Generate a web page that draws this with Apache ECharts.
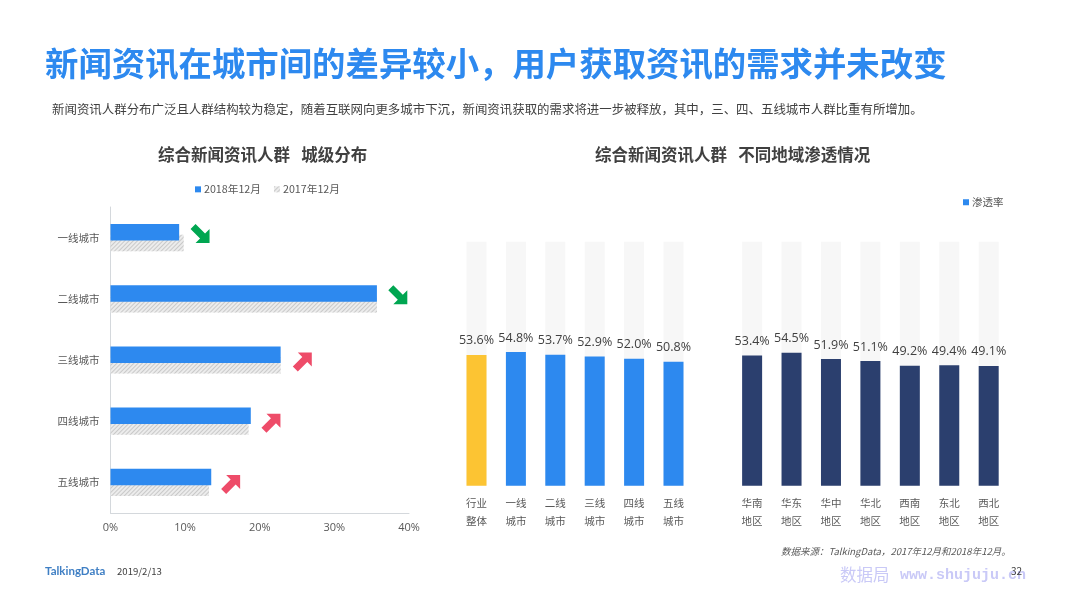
<!DOCTYPE html>
<html lang="zh">

<head>
    <meta charset="UTF-8">
    <title>新闻资讯</title>
    <style>
        html, body { margin: 0; padding: 0; background: #fff; }
        #chart { width: 1066px; height: 599px; }
    </style>
</head>

<body>
    <div id="chart"></div>
    <script src="https://cdn.jsdelivr.net/npm/echarts@6/dist/echarts.min.js"></script>
    <script>
        // 左图：城级分布
        var cityTiers = ['一线城市', '二线城市', '三线城市', '四线城市', '五线城市'];
        var share2018 = [9.2, 35.7, 22.8, 18.8, 13.5];
        var share2017 = [9.8, 35.7, 22.8, 18.5, 13.2];
        var arrowAt = [12.0, 38.5, 25.7, 21.5, 16.1];
        var arrowDir = ['down', 'down', 'up', 'up', 'up'];
        var shareTicks = [0, 10, 20, 30, 40];

        // 右图：渗透率
        var tierLabels = ['行业\n整体', '一线\n城市', '二线\n城市', '三线\n城市', '四线\n城市', '五线\n城市'];
        var tierRates = [53.6, 54.8, 53.7, 52.9, 52.0, 50.8];
        var regionLabels = ['华南\n地区', '华东\n地区', '华中\n地区', '华北\n地区', '西南\n地区', '东北\n地区', '西北\n地区'];
        var regionRates = [53.4, 54.5, 51.9, 51.1, 49.2, 49.4, 49.1];

        var FONT = '"Noto Sans CJK SC", "Noto Sans", sans-serif';
        var BLUE = '#2d89ef';
        var NAVY = '#2b3f6e';
        var YELLOW = '#fcc433';
        var ARROW_UP = 'path://M19 0L19 14L14.5 9.5L5 19L0 14L9.5 4.5L5 0Z';
        var ARROW_DOWN = 'path://M19 19L5 19L9.5 14.5L0 5L5 0L14.5 9.5L19 5Z';

        function text(str, left, top, size, color, extra) {
            var style = { text: str, left: left, top: top, padding: 0, textStyle: {
                fontFamily: FONT, fontSize: size, color: color, fontWeight: 'normal'
            } };
            for (var k in extra) style.textStyle[k] = extra[k];
            return style;
        }

        function rateAxis(gridIndex) {
            return { type: 'value', gridIndex: gridIndex, min: 0, max: 100, show: false };
        }

        function labelAxis(gridIndex, labels) {
            return {
                type: 'category', gridIndex: gridIndex, data: labels,
                axisLine: { show: false }, axisTick: { show: false },
                axisLabel: { fontFamily: FONT, fontSize: 10.5, color: '#595959', lineHeight: 18, margin: 8 }
            };
        }

        function rateSeries(index, values, color) {
            return {
                name: '渗透率', type: 'bar', xAxisIndex: index, yAxisIndex: index,
                data: values, barWidth: 20,
                itemStyle: { color: color },
                showBackground: true,
                backgroundStyle: { color: '#f7f7f7' },
                label: {
                    show: true, position: 'top', distance: 7.5,
                    fontFamily: '"Open Sans", sans-serif', fontSize: 12.5, color: '#404040',
                    formatter: function (p) { return p.value.toFixed(1) + '%'; }
                }
            };
        }

        var tierData = tierRates.map(function (v, i) {
            return i === 0 ? { value: v, itemStyle: { color: YELLOW } } : v;
        });

        var arrowData = arrowAt.map(function (x, i) {
            var isUp = arrowDir[i] === 'up';
            return {
                value: [x, i],
                symbol: isUp ? ARROW_UP : ARROW_DOWN,
                symbolOffset: [0, isUp ? 2 : -4],
                itemStyle: { color: isUp ? '#ee4c69' : '#00a651', opacity: 1 }
            };
        });

        var chart = echarts.init(document.getElementById('chart'));
        chart.setOption({
            animation: false,
            backgroundColor: '#fff',
            title: [
                text('新闻资讯在城市间的差异较小，用户获取资讯的需求并未改变', 45, 47, 33.4, '#2d89ef', { fontWeight: 'bold' }),
                text('新闻资讯人群分布广泛且人群结构较为稳定，随着互联网向更多城市下沉，新闻资讯获取的需求将进一步被释放，其中，三、四、五线城市人群比重有所增加。', 52, 103, 12.45, '#404040'),
                text('综合新闻资讯人群   城级分布', 158, 146, 16.5, '#404040', { fontWeight: 'bold' }),
                text('综合新闻资讯人群   不同地域渗透情况', 595, 146, 16.5, '#404040', { fontWeight: 'bold' }),
                text('数据来源：TalkingData，2017年12月和2018年12月。', 781, 547, 9.5, '#595959', { fontStyle: 'italic' }),
                text('TalkingData', 45, 565, 11.5, '#3f7fc4', { fontWeight: 'bold', fontFamily: '"Lato", sans-serif' }),
                text('2019/2/13', 117, 567, 9.6, '#404040'),
                text('数据局', 840, 566, 16.5, '#c9c9f7'),
                text('www.shujuju.cn', 900, 568, 15, '#c9c9f7', { fontWeight: 'bold', fontFamily: '"Liberation Mono", monospace' }),
                text('32', 1011, 566, 10, '#404040')
            ],
            legend: [
                {
                    data: ['2018年12月', '2017年12月'], left: 195, top: 184, padding: 0,
                    itemWidth: 6, itemHeight: 6, itemGap: 13, icon: 'rect',
                    textStyle: { fontFamily: FONT, fontSize: 10.7, color: '#595959', padding: [0, 0, 0, -2] }
                },
                {
                    data: ['渗透率'], left: 963, top: 197, padding: 0,
                    itemWidth: 6, itemHeight: 6, icon: 'rect',
                    textStyle: { fontFamily: FONT, fontSize: 10.5, color: '#595959', padding: [0, 0, 0, -2] }
                }
            ],
            grid: [
                { left: 110.5, top: 207, width: 298.5, height: 306 },
                { left: 456.8, top: 241.7, width: 236.4, height: 244 },
                { left: 732.4, top: 241.7, width: 276, height: 244 }
            ],
            xAxis: [
                {
                    type: 'value', gridIndex: 0, min: shareTicks[0], max: shareTicks[shareTicks.length - 1], interval: 10,
                    axisLine: { show: true, lineStyle: { color: '#d4d8dc' } },
                    axisTick: { show: false }, splitLine: { show: false },
                    axisLabel: { fontFamily: '"Open Sans", sans-serif', fontSize: 11, color: '#595959', margin: 9, formatter: '{value}%' }
                },
                labelAxis(1, tierLabels),
                labelAxis(2, regionLabels)
            ],
            yAxis: [
                {
                    type: 'category', gridIndex: 0, data: cityTiers, inverse: true,
                    axisLine: { show: true, lineStyle: { color: '#d4d8dc' } },
                    axisTick: { show: false },
                    axisLabel: { fontFamily: FONT, fontSize: 10.5, color: '#595959', margin: 11 }
                },
                rateAxis(1),
                rateAxis(2)
            ],
            series: [
                {
                    name: '2018年12月', type: 'bar', xAxisIndex: 0, yAxisIndex: 0,
                    data: share2018, barWidth: 16.5, barGap: '-35%', z: 3,
                    itemStyle: { color: BLUE }
                },
                {
                    name: '2017年12月', type: 'bar', xAxisIndex: 0, yAxisIndex: 0,
                    data: share2017, barWidth: 16.5, z: 2,
                    itemStyle: {
                        color: '#ececec',
                        decal: { symbol: 'rect', dashArrayX: [1, 0], dashArrayY: [1, 2], rotation: -Math.PI / 4, color: '#c9c9c9' }
                    }
                },
                {
                    name: '箭头', type: 'scatter', xAxisIndex: 0, yAxisIndex: 0,
                    data: arrowData, symbolSize: 19, z: 4, silent: true
                },
                rateSeries(1, tierData, BLUE),
                rateSeries(2, regionRates, NAVY)
            ]
        });
    </script>
</body>

</html>
